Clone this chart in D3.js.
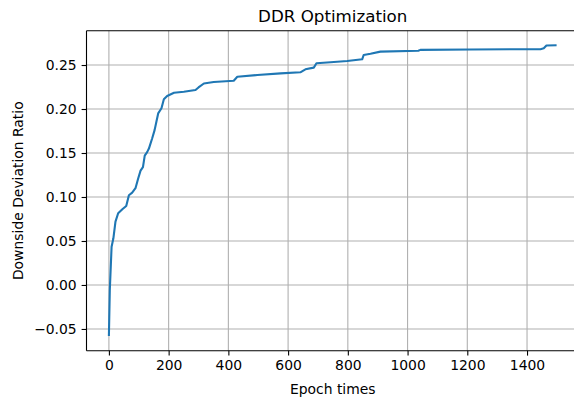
<!DOCTYPE html>
<html>
<head>
<meta charset="utf-8">
<script src="https://cdn.jsdelivr.net/npm/d3@7"></script>
<style>
  body { margin: 0; background: #fff; }
  svg { display: block; font-family: "DejaVu Sans", sans-serif; }
</style>
</head>
<body>
<svg id="chart" width="574" height="400"></svg>
<script>
const epochs = [0, 3, 9, 15, 22, 31, 45, 58, 67, 78, 89, 98, 106, 114, 120, 128, 134, 145, 153, 159, 165, 176, 184, 195, 218, 251, 273, 290, 300, 318, 351, 418, 430, 497, 575, 641, 658, 686, 695, 742, 798, 848, 853, 876, 909, 1036, 1043, 1211, 1445, 1456, 1465, 1499];
const ddr = [-0.058, -0.006, 0.0435, 0.053, 0.072, 0.0815, 0.086, 0.0898, 0.102, 0.105, 0.11, 0.121, 0.13, 0.134, 0.147, 0.151, 0.155, 0.1667, 0.176, 0.1856, 0.195, 0.2008, 0.211, 0.2148, 0.2185, 0.2197, 0.2208, 0.2216, 0.2245, 0.229, 0.2307, 0.2322, 0.2367, 0.2386, 0.2405, 0.2417, 0.2451, 0.247, 0.252, 0.2531, 0.2545, 0.2565, 0.2614, 0.2628, 0.2652, 0.2662, 0.2672, 0.2677, 0.268, 0.269, 0.2722, 0.2725];
const xTicks = [0, 200, 400, 600, 800, 1000, 1200, 1400];
const yTicks = [-0.05, 0.00, 0.05, 0.10, 0.15, 0.20, 0.25];
const titleText = "DDR Optimization";
const xLabel = "Epoch times";
const yLabel = "Downside Deviation Ratio";

const svg = d3.select("#chart");
const L = 86.5, R = 579, T = 30.7, B = 350.7;
const x = d3.scaleLinear().domain([-75, 1574]).range([L, R]);
const y = d3.scaleLinear().domain([-0.0747, 0.289]).range([B, T]);

const fs = 13.9;
const g = svg.append("g");

// grid
g.selectAll("line.gx").data(xTicks).enter().append("line")
  .attr("x1", d => x(d)).attr("x2", d => x(d)).attr("y1", T).attr("y2", B)
  .attr("stroke", "#b0b0b0").attr("stroke-width", 1.1);
g.selectAll("line.gy").data(yTicks).enter().append("line")
  .attr("x1", L).attr("x2", R).attr("y1", d => y(d)).attr("y2", d => y(d))
  .attr("stroke", "#b0b0b0").attr("stroke-width", 1.1);

// line
const line = d3.line().x((d, i) => x(epochs[i])).y(d => y(d));
g.append("path").datum(ddr).attr("d", line)
  .attr("fill", "none").attr("stroke", "#1f77b4").attr("stroke-width", 2.1)
  .attr("stroke-linejoin", "round").attr("stroke-linecap", "butt");

// axes
const xAxis = d3.axisBottom(x).tickValues(xTicks).tickSize(4.9).tickPadding(4.5).tickFormat(d3.format("d"));
const yAxis = d3.axisLeft(y).tickValues(yTicks).tickSize(4.9).tickPadding(4.9).tickFormat(d3.format(".2f"));
const gx = svg.append("g").attr("transform", `translate(0,${B})`).call(xAxis);
const gy = svg.append("g").attr("transform", `translate(${L},0)`).call(yAxis);
[gx, gy].forEach(a => {
  a.select(".domain").remove();
  a.selectAll(".tick line").attr("stroke", "#000").attr("stroke-width", 1.1);
  a.selectAll(".tick text").attr("font-size", fs).attr("fill", "#000")
    .attr("font-family", "DejaVu Sans, sans-serif");
});

// spines (left, top, bottom; right is outside the image)
svg.append("line").attr("x1", L).attr("x2", L).attr("y1", T).attr("y2", B).attr("stroke", "#000").attr("stroke-width", 1.1);
svg.append("line").attr("x1", L).attr("x2", R).attr("y1", T).attr("y2", T).attr("stroke", "#000").attr("stroke-width", 1.1);
svg.append("line").attr("x1", L).attr("x2", R).attr("y1", B).attr("y2", B).attr("stroke", "#000").attr("stroke-width", 1.1);
svg.append("line").attr("x1", R).attr("x2", R).attr("y1", T).attr("y2", B).attr("stroke", "#000").attr("stroke-width", 1.1);

// title and labels
svg.append("text").attr("x", (L + R) / 2).attr("y", 22.4).attr("text-anchor", "middle")
  .attr("font-size", 16.7).attr("fill", "#000").text(titleText);
svg.append("text").attr("x", (L + R) / 2).attr("y", 393.5).attr("text-anchor", "middle")
  .attr("font-size", fs).attr("fill", "#000").text(xLabel);
svg.append("text").attr("transform", `translate(22.5,${(T + B) / 2}) rotate(-90)`)
  .attr("text-anchor", "middle").attr("font-size", fs).attr("fill", "#000").text(yLabel);
</script>
</body>
</html>
